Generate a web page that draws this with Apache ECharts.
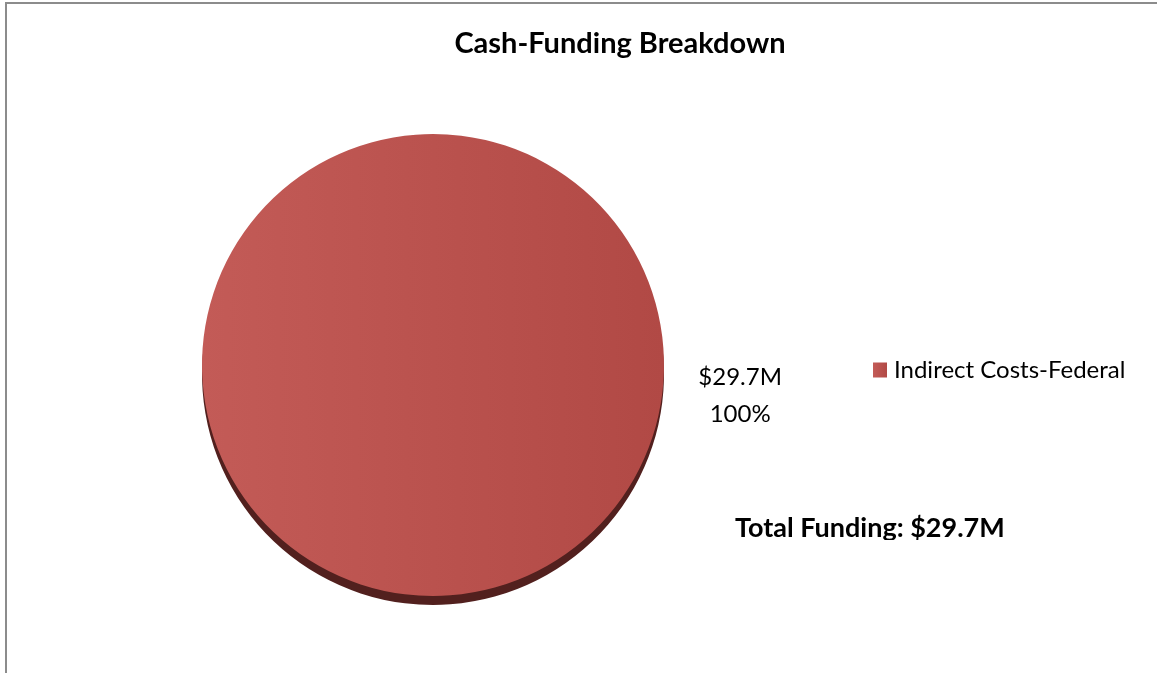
<!DOCTYPE html>
<html>
<head>
<meta charset="utf-8">
<title>Cash-Funding Breakdown</title>
<script src="https://cdn.jsdelivr.net/npm/echarts@6/dist/echarts.min.js"></script>
<style>
  html, body { margin: 0; padding: 0; background: #fff; }
  #chart { width: 1157px; height: 673px; }
</style>
</head>
<body>
<div id="chart"></div>
<script>
// Funding sources and amounts (millions of dollars)
const categories = ['Indirect Costs-Federal'];
const amounts = [29.7];
const chartTitle = 'Cash-Funding Breakdown';

const total = amounts.reduce((a, b) => a + b, 0);
const fmtMoney = v => '$' + v.toFixed(1) + 'M';
const pieData = categories.map((name, i) => ({ name, value: amounts[i] }));

const font = 'Lato, "Open Sans", sans-serif';
const center = [433, 365];
const radius = 231;
const startAngle = 173; // puts the slice's mid-angle just below the right-hand side

const chart = echarts.init(document.getElementById('chart'), null, { renderer: 'canvas' });

chart.setOption({
  animation: false,
  backgroundColor: '#ffffff',
  title: {
    text: chartTitle,
    left: 615,
    textAlign: 'center',
    top: 24,
    textStyle: { fontFamily: font, fontSize: 29, fontWeight: 'bold', color: '#000' }
  },
  legend: {
    data: categories,
    orient: 'vertical',
    left: 868,
    top: 353,
    itemWidth: 14,
    itemHeight: 15,
    icon: 'rect',
    textStyle: { fontFamily: font, fontSize: 24, color: '#000', padding: [0, 0, 0, 2] }
  },
  series: [
    {
      // dark rim giving the disc its depth
      name: 'rim',
      type: 'pie',
      center: [center[0], center[1] + 9],
      radius: radius,
      startAngle: startAngle,
      silent: true,
      legendHoverLink: false,
      label: { show: false },
      labelLine: { show: false },
      itemStyle: { color: '#52201e' },
      data: pieData.map(d => ({ value: d.value, name: d.name + ' ' }))
    },
    {
      name: 'Funding',
      type: 'pie',
      center: center,
      radius: radius,
      startAngle: startAngle,
      itemStyle: {
        color: new echarts.graphic.LinearGradient(0, 0, 1, 0, [
          { offset: 0, color: '#c35b57' },
          { offset: 1, color: '#b14945' }
        ])
      },
      label: {
        show: true,
        position: 'outside',
        formatter: p => '{a|' + fmtMoney(p.value) + '}\n{a|' + Math.round(p.percent) + '%}',
        rich: {
          a: { width: 86, align: 'center', fontFamily: font, fontSize: 24, color: '#000', lineHeight: 37 }
        }
      },
      labelLine: { show: false, length: 20, length2: 10 },
      data: pieData
    }
  ],
  graphic: [
    { type: 'line', shape: { x1: 6, y1: 2, x2: 6, y2: 673 }, style: { stroke: '#8c8c8c', lineWidth: 2 } },
    { type: 'line', shape: { x1: 5, y1: 3, x2: 1157, y2: 3 }, style: { stroke: '#8c8c8c', lineWidth: 2 } },
    {
      type: 'text',
      left: 735,
      top: 515,
      z: 10,
      style: { text: 'Total Funding: ' + fmtMoney(total), font: 'bold 27px ' + font, fill: '#000' }
    },
    // the text box ends just below the baseline, cutting off descenders
    { type: 'rect', shape: { x: 725, y: 540, width: 300, height: 14 }, style: { fill: '#fff' }, z: 11 }
  ]
});
</script>
</body>
</html>
